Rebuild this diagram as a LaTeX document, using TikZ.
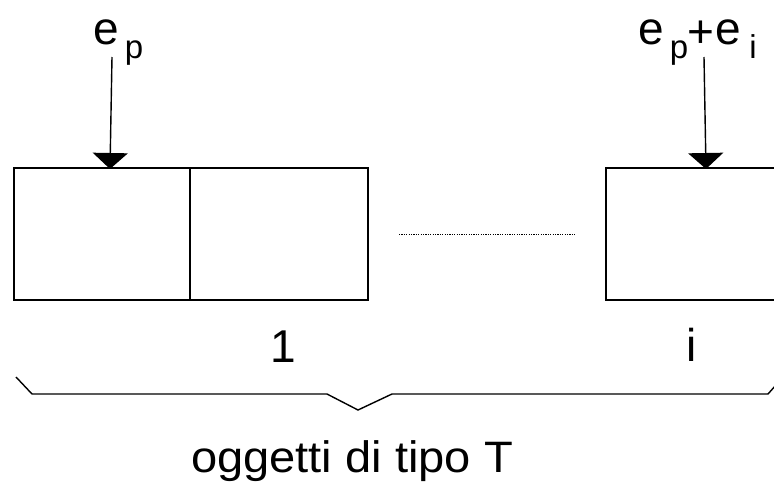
\documentclass[tikz,border=0pt]{standalone}
\usepackage{fontspec}
\setmainfont{Liberation Sans}
\usetikzlibrary{arrows.meta}
\newcommand{\bigfnt}{\fontsize{46}{46}\selectfont}
\newcommand{\smlfnt}{\fontsize{33}{33}\selectfont}
\newcommand{\sub}[1]{\raisebox{-14pt}{\smlfnt #1}}
\begin{document}
\begin{tikzpicture}[x=1pt,y=-1pt,
  cell/.style={draw,line width=1.5pt,inner sep=0pt,outer sep=0pt,minimum height=132pt},
  lbl/.style={inner sep=0pt,outer sep=0pt,font=\bigfnt},
  ptr/.style={line width=1.4pt,-{Triangle[width=35pt,length=16pt]}},
  bracestyle/.style={line width=1.4pt,line join=miter}]
\useasboundingbox (0,0) rectangle (774,482);
\clip (0,0) rectangle (774,482);
\fill[white] (0,0) rectangle (774,482);
% cells
\node[cell,minimum width=176pt] (b1) at (102,234) {};
\node[cell,minimum width=178pt] (b2) at (279,234) {};
\node[cell,minimum width=190pt] (b3) at (701,234) {};
% dotted gap
\coordinate (d1) at (399,234);
\coordinate (d2) at (575,234);
\draw[line width=0.9pt,dash pattern=on 1.2pt off 1.2pt] (d1) -- (d2);
% pointer labels
\node[lbl,anchor=base west] (ep) at (93,44) {e\kern6.4pt\sub{p}};
\node[lbl,anchor=base west] (epi) at (638,44) {e\kern6.4pt\sub{p}\kern-0.9pt\raisebox{-3pt}{+}\kern1pt e\kern8.4pt\sub{i}};
\coordinate (s1) at (112,57);
\coordinate (t1) at (110,169);
\coordinate (s2) at (704,57);
\coordinate (t2) at (706,169);
\draw[ptr] (s1) -- (t1);
\draw[ptr] (s2) -- (t2);
% indices
\node[lbl,anchor=base] (n1) at (283,362) {1};
\node[lbl,anchor=base] (ni) at (692,361) {i};
% brace
\draw[bracestyle] (16,377) -- (32,394) -- (327,394) -- (358,410) -- (392,394) -- (768,394) -- (776,385);
\node[lbl,anchor=base,font=\fontsize{44}{44}\selectfont] (cap) at (352,472) {\scalebox{1.07}[1]{oggetti di tipo T}};
\end{tikzpicture}
\end{document}
